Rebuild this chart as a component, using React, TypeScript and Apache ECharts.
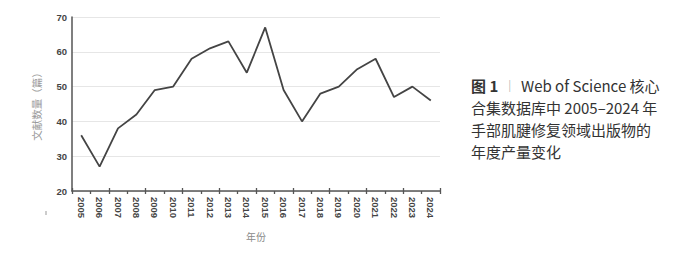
import React, { useEffect, useRef } from "react";
import * as echarts from "echarts";

const years = ["2005","2006","2007","2008","2009","2010","2011","2012","2013","2014","2015","2016","2017","2018","2019","2020","2021","2022","2023","2024"];
const counts = [36, 27, 38, 42, 49, 50, 58, 61, 63, 54, 67, 49, 40, 48, 50, 55, 58, 47, 50, 46];
const yTicks = [20, 30, 40, 50, 60, 70];
const captionLines = [
  "Web of Science 核心",
  "合集数据库中 2005–2024 年",
  "手部肌腱修复领域出版物的",
  "年度产量变化",
];

export default function App() {
  const ref = useRef<HTMLDivElement>(null);
  useEffect(() => {
    if (!ref.current) return;
    const chart = echarts.init(ref.current, null, { renderer: "svg" });
    const capFont = '"Noto Sans CJK SC", "Noto Sans", sans-serif';
    chart.setOption({
      animation: false,
      backgroundColor: "#ffffff",
      grid: { left: 72, right: 260, top: 17, bottom: 70 },
      xAxis: [
        {
          type: "category",
          data: years,
          boundaryGap: true,
          name: "年份",
          nameLocation: "middle",
          nameGap: 40,
          nameTextStyle: { color: "#8a8a8a", fontSize: 10, fontFamily: capFont },
          axisLine: { show: true, lineStyle: { color: "#555", width: 1.5 } },
          axisTick: { show: true, length: 3, lineStyle: { color: "#555", width: 1.3 } },
          axisLabel: {
            rotate: -90,
            color: "#444",
            fontSize: 9.5,
            fontWeight: "bold",
            margin: 6,
            fontFamily: "Liberation Sans, sans-serif",
          },
          splitLine: { show: false },
        },
        {
          type: "category",
          data: years,
          position: "bottom",
          boundaryGap: true,
          axisLine: { show: false },
          axisTick: { show: true, inside: true, length: 3, lineStyle: { color: "#555", width: 1.3 } },
          axisLabel: { show: false },
          splitLine: { show: false },
        },
      ],
      yAxis: {
        type: "value",
        min: yTicks[0],
        max: yTicks[yTicks.length - 1],
        interval: 10,
        name: "文献数量（篇）",
        nameLocation: "middle",
        nameGap: 30,
        nameRotate: 90,
        nameTextStyle: { color: "#9a9a9a", fontSize: 10.5, fontFamily: capFont },
        axisLine: { show: true, lineStyle: { color: "#555", width: 1.5 } },
        axisTick: { show: false },
        axisLabel: {
          color: "#444",
          fontSize: 9.5,
          fontWeight: "bold",
          margin: 5,
          fontFamily: "Liberation Sans, sans-serif",
        },
        splitLine: { show: true, lineStyle: { color: "#e6e6e6", width: 1.2 } },
      },
      series: [
        {
          type: "line",
          data: counts,
          symbol: "none",
          lineStyle: { color: "#444", width: 1.8 },
        },
      ],
      graphic: [
        {
          type: "text",
          left: 471,
          top: 78,
          style: {
            text: "{b|图 1}{s|  ｜  }{n|" + captionLines[0] + "}",
            rich: {
              b: { fontSize: 15, fontWeight: "bold", fill: "#333", fontFamily: capFont },
              s: { fontSize: 12, fill: "#999", fontFamily: capFont },
              n: { fontSize: 15, fill: "#333", fontFamily: capFont },
            },
          },
        },
        ...captionLines.slice(1).map((t, i) => ({
          type: "text",
          left: 471,
          top: 100 + i * 22,
          style: { text: t, fontSize: 15, fill: "#333", fontFamily: capFont },
        })),
        {
          type: "line",
          shape: { x1: 46, y1: 211, x2: 46, y2: 215 },
          style: { stroke: "#999", lineWidth: 1 },
        },
      ],
    });
    return () => chart.dispose();
  }, []);
  return (
    <div
      ref={ref}
      style={{ position: "absolute", left: 0, top: 0, width: 700, height: 261 }}
    />
  );
}
